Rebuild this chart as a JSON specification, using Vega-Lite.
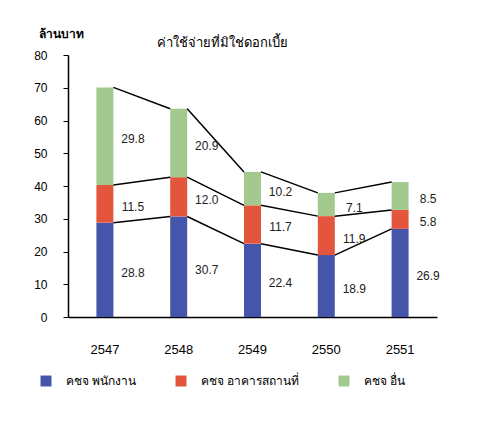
{
  "$schema": "https://vega.github.io/schema/vega-lite/v6.json",
  "autosize": "none",
  "width": 369,
  "height": 262,
  "padding": {"left": 68, "top": 55, "right": 51, "bottom": 113},
  "background": "white",
  "config": {
    "font": "Liberation Sans",
    "view": {"stroke": null},
    "axis": {"grid": false, "domainColor": "black", "tickColor": "black", "labelColor": "black", "labelFont": "Liberation Sans"}
  },
  "title": {
    "text": "ค่าใช้จ่ายที่มิใช่ดอกเบี้ย",
    "anchor": "start",
    "frame": "group",
    "dx": 89,
    "dy": 29,
    "offset": 6,
    "fontSize": 13,
    "fontWeight": "normal",
    "color": "black"
  },
  "data": {
    "values": [
      {"year": "2547", "series": "คชจ พนักงาน", "order": 1, "value": 28.8},
      {"year": "2547", "series": "คชจ อาคารสถานที่", "order": 2, "value": 11.5},
      {"year": "2547", "series": "คชจ อื่น", "order": 3, "value": 29.8},
      {"year": "2548", "series": "คชจ พนักงาน", "order": 1, "value": 30.7},
      {"year": "2548", "series": "คชจ อาคารสถานที่", "order": 2, "value": 12.0},
      {"year": "2548", "series": "คชจ อื่น", "order": 3, "value": 20.9},
      {"year": "2549", "series": "คชจ พนักงาน", "order": 1, "value": 22.4},
      {"year": "2549", "series": "คชจ อาคารสถานที่", "order": 2, "value": 11.7},
      {"year": "2549", "series": "คชจ อื่น", "order": 3, "value": 10.2},
      {"year": "2550", "series": "คชจ พนักงาน", "order": 1, "value": 18.9},
      {"year": "2550", "series": "คชจ อาคารสถานที่", "order": 2, "value": 11.9},
      {"year": "2550", "series": "คชจ อื่น", "order": 3, "value": 7.1},
      {"year": "2551", "series": "คชจ พนักงาน", "order": 1, "value": 26.9},
      {"year": "2551", "series": "คชจ อาคารสถานที่", "order": 2, "value": 5.8},
      {"year": "2551", "series": "คชจ อื่น", "order": 3, "value": 8.5}
    ]
  },
  "transform": [
    {"stack": "value", "groupby": ["year"], "sort": [{"field": "order"}], "as": ["y0", "y1"]},
    {"calculate": "(datum.y0 + datum.y1) / 2", "as": "ymid"}
  ],
  "encoding": {
    "x": {
      "field": "year",
      "type": "nominal",
      "scale": {"paddingInner": 0, "paddingOuter": 0},
      "axis": {"title": null, "labelAngle": 0, "ticks": false, "labelPadding": 26, "labelFontSize": 13, "domainWidth": 1.5}
    }
  },
  "layer": [
    {
      "mark": {"type": "bar", "size": 17},
      "encoding": {
        "y": {
          "field": "y0",
          "type": "quantitative",
          "scale": {"domain": [0, 80]},
          "axis": {
            "title": "ล้านบาท",
            "titleAngle": 0,
            "titleX": -30,
            "titleY": -15,
            "titleAlign": "left",
            "titleBaseline": "bottom",
            "titleFontSize": 12,
            "titleFontWeight": "bold",
            "titleColor": "black",
            "values": [0, 10, 20, 30, 40, 50, 60, 70, 80],
            "tickCount": 20,
            "labelOverlap": false,
            "tickSize": 5,
            "labelPadding": 16,
            "labelFontSize": 12,
            "domainWidth": 1.5
          }
        },
        "y2": {"field": "y1"},
        "color": {
          "field": "series",
          "type": "nominal",
          "sort": ["คชจ พนักงาน", "คชจ อาคารสถานที่", "คชจ อื่น"],
          "scale": {"domain": ["คชจ พนักงาน", "คชจ อาคารสถานที่", "คชจ อื่น"], "range": ["#4556aa", "#e4553e", "#a3c98e"]},
          "legend": {
            "title": null,
            "orient": "none",
            "direction": "horizontal",
            "legendX": -28,
            "legendY": 320,
            "symbolType": "square",
            "symbolSize": 120,
            "symbolStrokeWidth": 0,
            "labelFontSize": 12,
            "labelColor": "black",
            "labelOffset": 14,
            "columnPadding": 38
          }
        }
      }
    },
    {
      "transform": [
        {"window": [{"op": "lead", "field": "y1", "as": "nextY1"}, {"op": "lead", "field": "year", "as": "nextYear"}], "groupby": ["series"], "sort": [{"field": "year"}]},
        {"filter": "datum.nextYear != null"}
      ],
      "mark": {"type": "rule", "color": "black", "strokeWidth": 1.5, "xOffset": 8.5, "x2Offset": -8.5},
      "encoding": {
        "x2": {"field": "nextYear"},
        "y": {"field": "y1", "type": "quantitative"},
        "y2": {"field": "nextY1"}
      }
    },
    {
      "mark": {"type": "text", "fontSize": 12, "color": "#222", "dx": 28, "dy": 3},
      "encoding": {
        "y": {"field": "ymid", "type": "quantitative"},
        "text": {"field": "value", "type": "quantitative", "format": ".1f"}
      }
    }
  ]
}
